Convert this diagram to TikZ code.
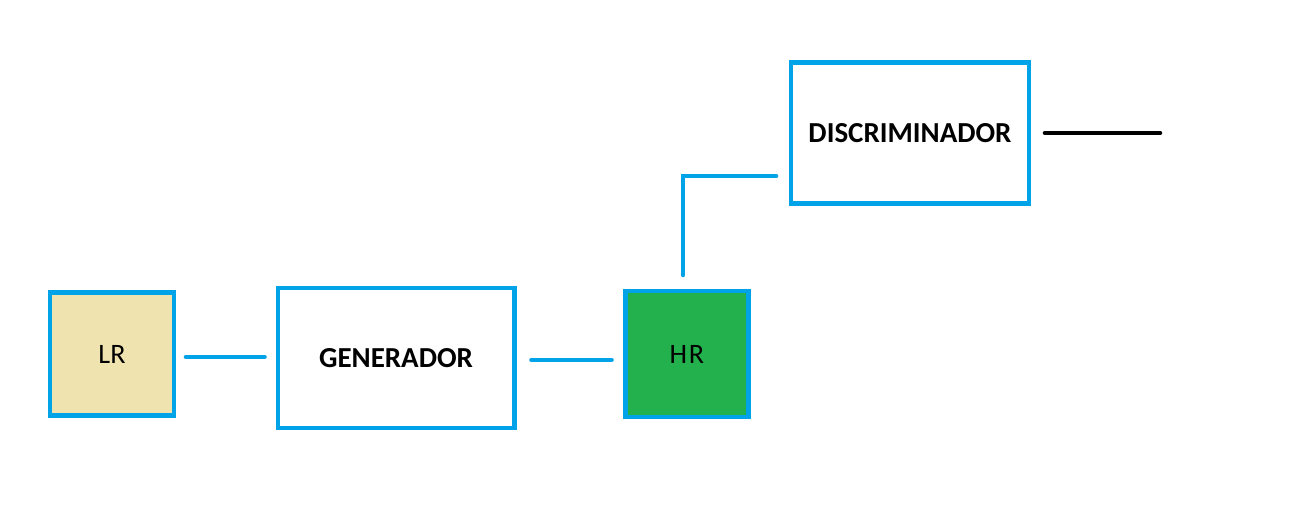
\documentclass[tikz,border=0pt]{standalone}
\usepackage{fontspec}
\setmainfont{Carlito}
\usetikzlibrary{calc}
\definecolor{paintblue}{HTML}{00A2E8}
\definecolor{paintgreen}{HTML}{22B14C}
\definecolor{paintbeige}{HTML}{EFE4B0}
\tikzset{
    box/.style={draw=paintblue, line width=2.3pt, font=\fontsize{16}{19}\selectfont, inner sep=0pt},
    link/.style={draw=paintblue, line width=2.6pt, line cap=round}
}

\begin{document}
\begin{tikzpicture}[x=0.02cm, y=-0.02cm]
    \useasboundingbox (0,0) rectangle (1298,506);
    
    \node[box, fill=paintbeige, minimum width=2.48cm, minimum height=2.46cm] (lr) at (112,354) {LR};
    
    \node[box, minimum width=4.74cm, minimum height=2.8cm, font=\fontsize{16.5}{19}\selectfont\bfseries] (gen) at (396,358) {GENERADOR};
    
    \node[box, fill=paintgreen, minimum width=2.46cm, minimum height=2.52cm] (hr) at (687,354) {H\kern1pt R};
    
    \node[box, minimum width=4.76cm, minimum height=2.82cm, font=\fontsize{16.5}{19}\selectfont\bfseries] (disc) at (910,133) {DISCRIMINADOR};
    
    \coordinate (out) at (1160,133);
    
    \draw[link, shorten <=0.2cm, shorten >=0.22cm] ($(lr.east)+(0,3)$) -- ($(lr.east -| gen.west)+(0,3)$);
    \draw[link, shorten <=0.3cm, shorten >=0.24cm] ($(gen.east)+(0,2)$) -- ($(gen.east -| hr.west)+(0,2)$);
    \draw[link, shorten <=0.28cm, shorten >=0.26cm] ($(hr.north)+(-4,0)$) |- ($(disc.west)+(0,43)$);
    
    \draw[line width=2.6pt, line cap=round, shorten <=0.28cm] (disc.east) -- (out);
    
\end{tikzpicture}
\end{document}
